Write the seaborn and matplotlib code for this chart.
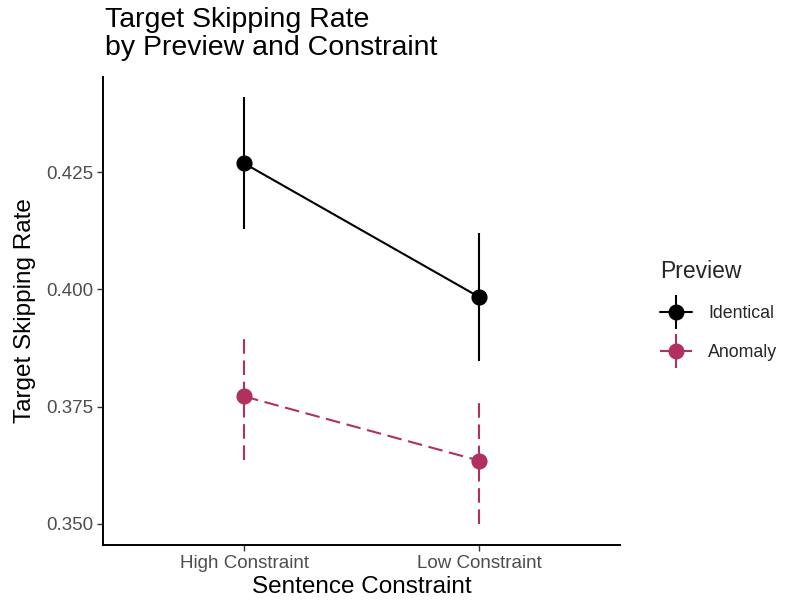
import matplotlib
matplotlib.use("Agg")
import matplotlib.pyplot as plt
from matplotlib.lines import Line2D
import numpy as np
import pandas as pd
import seaborn as sns

# Condition means and 95% interval bounds
constraint = ["High Constraint", "Low Constraint"]
preview = ["Identical", "Anomaly"]
identical_mean = [0.4269, 0.3984]
identical_lo = [0.4128, 0.3847]
identical_hi = [0.4410, 0.4120]
anomaly_mean = [0.3772, 0.3635]
anomaly_lo = [0.3637, 0.3500]
anomaly_hi = [0.3907, 0.3770]

colors = {"Identical": "#000000", "Anomaly": "#B0305F"}
dash = (7.0, 3.2)

df = pd.DataFrame({
    "Sentence Constraint": constraint * 2,
    "Preview": ["Identical"] * 2 + ["Anomaly"] * 2,
    "rate": identical_mean + anomaly_mean,
    "lo": identical_lo + anomaly_lo,
    "hi": identical_hi + anomaly_hi,
})

sns.set_theme(style="white")
plt.rcParams["font.family"] = ["Liberation Sans", "DejaVu Sans"]

fig = plt.figure(figsize=(7.88, 6.04), dpi=100)
ax = fig.add_axes([103 / 788, 1 - 545 / 604, (620 - 103) / 788, (545 - 77) / 604])

sns.pointplot(data=df, x="Sentence Constraint", y="rate", hue="Preview",
              hue_order=preview, order=constraint, palette=colors,
              errorbar=None, markers="o", linestyles=["-", "--"],
              markersize=10.5, linewidth=1.5, ax=ax, legend=False)

# dashed style for the anomaly line
for line in ax.lines:
    if line.get_linestyle() == "--":
        line.set_dashes(dash)

# interval bars
xpos = {c: i for i, c in enumerate(constraint)}
for p in preview:
    sub = df[df["Preview"] == p]
    xs = [xpos[c] for c in sub["Sentence Constraint"]]
    lc = ax.vlines(xs, sub["lo"], sub["hi"], colors=colors[p], linewidth=1.5, zorder=1)
    if p == "Anomaly":
        lc.set_linestyle((0, dash))

ax.set_xlim(-0.6, 1.6)
ax.set_ylim(0.3455, 0.4453)
ax.set_yticks([0.350, 0.375, 0.400, 0.425])
ax.set_yticklabels(["0.350", "0.375", "0.400", "0.425"])

for s in ["top", "right"]:
    ax.spines[s].set_visible(False)
for s in ["left", "bottom"]:
    ax.spines[s].set_color("black")
    ax.spines[s].set_linewidth(1.4)

ax.tick_params(axis="both", which="both", length=4, width=1.0, color="#333333",
               labelsize=13.5, labelcolor="#4D4D4D", pad=3, left=True, bottom=True)
ax.set_xlabel("Sentence Constraint", fontsize=17.5, color="black", labelpad=3)
ax.set_ylabel("Target Skipping Rate", fontsize=17.5, color="black", labelpad=7)

fig.text(105 / 788, 1 - 7 / 604, "Target Skipping Rate\nby Preview and Constraint",
         ha="left", va="top", fontsize=20.5, color="black", linespacing=1.12)

# legend with point-range keys
handles = []
for p in preview:
    ls = "-" if p == "Identical" else (0, dash)
    h1 = Line2D([], [], color=colors[p], linestyle=ls, linewidth=1.5,
                marker="o", markersize=10.5)
    h2 = Line2D([], [], color=colors[p], linestyle="none", marker="|",
                markersize=24, markeredgewidth=1.5)
    handles.append((h1, h2))
leg = fig.legend(handles, preview, title="Preview", loc="upper left",
                 bbox_to_anchor=(644 / 788, 1 - 244 / 604), frameon=False,
                 fontsize=12.8, title_fontsize=16.5, handlelength=1.8,
                 labelspacing=1.25, handletextpad=0.9, alignment="left")
leg._legend_box.sep = 16

fig.savefig("out.png", dpi=100, facecolor="white")
